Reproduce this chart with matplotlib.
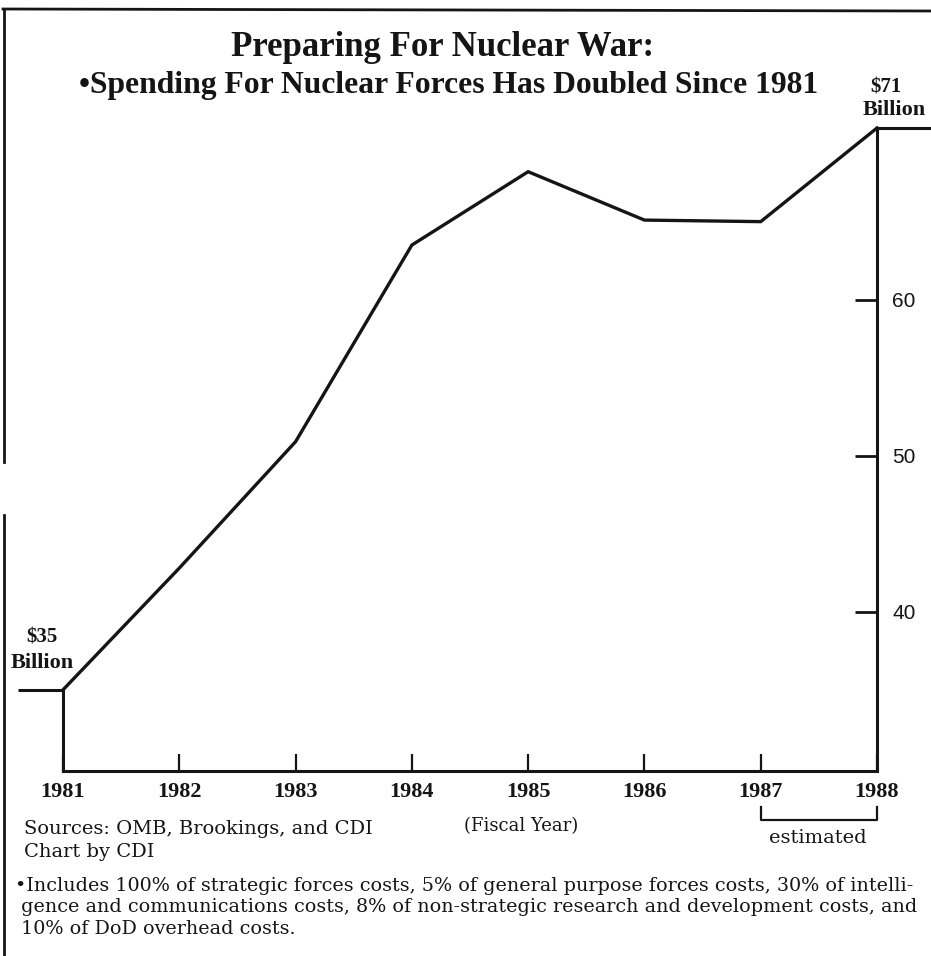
import numpy as np
import matplotlib
matplotlib.use("Agg")
import matplotlib.pyplot as plt
from matplotlib.lines import Line2D
from matplotlib.transforms import blended_transform_factory

# Fiscal years and nuclear-forces spending (billions of dollars)
years = [1981, 1982, 1983, 1984, 1985, 1986, 1987, 1988]
spending = [35.0, 42.8, 50.9, 63.5, 68.2, 65.1, 65.0, 71.0]
year_labels = ["1981", "1982", "1983", "1984", "1985", "1986", "1987", "1988"]
value_ticks = [40, 50, 60]

title = "Preparing For Nuclear War:"
subtitle = "\u2022Spending For Nuclear Forces Has Doubled Since 1981"
footnote = [
    "\u2022Includes 100% of strategic forces costs, 5% of general purpose forces costs, 30% of intelli-",
    " gence and communications costs, 8% of non-strategic research and development costs, and",
    " 10% of DoD overhead costs.",
]

W, H = 931, 956
fig = plt.figure(figsize=(W / 100, H / 100), dpi=100)
fig.patch.set_facecolor("white")

def fx(px):
    return px / W

def fy(py):
    return 1 - py / H

ink = "#151515"
serif = "Liberation Serif"
wide_serif = "DejaVu Serif"

y_bottom = 29.8
ax = fig.add_axes([fx(63), fy(771), fx(877) - fx(63), fy(128) - fy(771)])
ax.set_xlim(years[0], years[-1])
ax.set_ylim(y_bottom, spending[-1])

ax.plot(years, spending, color=ink, lw=2.4, solid_joinstyle="miter", clip_on=False, zorder=3)
# short level strokes marking the first and last values
ax.plot([years[0] - 0.39, years[0]], [spending[0], spending[0]], color=ink, lw=2.2,
        clip_on=False, solid_capstyle="butt")
ax.plot([years[-1], years[-1] + 0.6], [spending[-1], spending[-1]], color=ink, lw=2.2,
        clip_on=False, solid_capstyle="butt")

ax.spines["top"].set_visible(False)
for side in ("left", "right", "bottom"):
    ax.spines[side].set_linewidth(2.2)
    ax.spines[side].set_color(ink)
ax.spines["left"].set_bounds(y_bottom, spending[0])
ax.spines["right"].set_bounds(y_bottom, spending[-1])

ax.set_xticks(years)
ax.set_xticklabels(year_labels, fontfamily=serif, fontweight="bold", fontsize=16, color=ink)
ax.tick_params(axis="x", direction="in", length=12, width=1.6, pad=8, color=ink)

ax.yaxis.tick_right()
ax.set_yticks(value_ticks)
ax.set_yticklabels([str(v) for v in value_ticks], fontfamily="Liberation Sans",
                   fontsize=15, color=ink)
ax.tick_params(axis="y", direction="in", length=16, width=2.0, pad=11, color=ink)

# headline
fig.text(fx(443), fy(47), title, ha="center", va="center", fontfamily=serif,
         fontweight="bold", fontsize=25, color=ink)
fig.text(fx(449), fy(86), subtitle, ha="center", va="center", fontfamily=serif,
         fontweight="bold", fontsize=22.8, color=ink)

# end-point value labels
fig.text(fx(886), fy(87), "$71", ha="center", va="center", fontfamily=serif,
         fontweight="bold", fontsize=15, color=ink)
fig.text(fx(894), fy(110), "Billion", ha="center", va="center", fontfamily=serif,
         fontweight="bold", fontsize=16, color=ink)
fig.text(fx(42), fy(638), "$35", ha="center", va="center", fontfamily=serif,
         fontweight="bold", fontsize=15, color=ink)
fig.text(fx(42), fy(663), "Billion", ha="center", va="center", fontfamily=serif,
         fontweight="bold", fontsize=16, color=ink)

fig.text(fx(521), fy(826), "(Fiscal Year)", ha="center", va="center", fontfamily=wide_serif,
         fontsize=13, color=ink)

# bracket for estimated years
bt = blended_transform_factory(ax.transData, fig.transFigure)
fig.add_artist(Line2D([years[-2], years[-2], years[-1], years[-1]],
                      [fy(807), fy(820), fy(820), fy(807)], transform=bt,
                      color=ink, lw=1.6))
fig.text(fx(818), fy(838), "estimated", ha="center", va="center", fontfamily=wide_serif,
         fontsize=14, color=ink)

fig.text(fx(24), fy(829), "Sources: OMB, Brookings, and CDI", ha="left", va="center",
         fontfamily=wide_serif, fontsize=14, color=ink)
fig.text(fx(24), fy(852), "Chart by CDI", ha="left", va="center",
         fontfamily=wide_serif, fontsize=14, color=ink)

for i, line in enumerate(footnote):
    fig.text(fx(15), fy(886 + 21.5 * i), line, ha="left", va="center", fontfamily=wide_serif,
             fontsize=13.8, color=ink)

# page rules
fig.add_artist(Line2D([fx(3), fx(931)], [fy(9), fy(11)], color=ink, lw=2.0))
fig.add_artist(Line2D([fx(4), fx(4)], [fy(9), fy(462)], color=ink, lw=2.0))
fig.add_artist(Line2D([fx(4), fx(4)], [fy(515), fy(956)], color=ink, lw=2.0))

fig.savefig("out.png", dpi=100, facecolor="white")
